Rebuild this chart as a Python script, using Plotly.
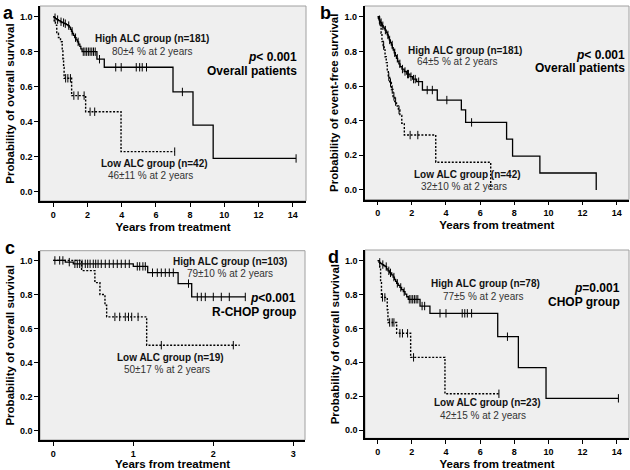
"""
Kaplan-Meier curves: high vs low ALC group, 4 panels (a-d)
"""
import plotly.graph_objects as go

W, H = 630, 470
FONT = 'Liberation Sans'

# ---- panel a : overall survival, overall patients ----
a_high_t = [0.05, 0.12, 0.2, 0.3, 0.4, 0.5, 0.62, 0.75, 0.85, 0.93, 1.0, 1.06, 1.12, 1.18,
            1.25, 1.33, 1.41, 1.48, 1.55, 1.61, 1.68, 2.55, 2.98, 7.0, 8.17, 9.35]
a_high_s = [0.994, 0.989, 0.983, 0.977, 0.971, 0.966, 0.960, 0.955, 0.949, 0.940, 0.928, 0.916,
            0.905, 0.893, 0.880, 0.868, 0.856, 0.843, 0.830, 0.816, 0.800, 0.757, 0.711, 0.57,
            0.38, 0.19]
a_high_cens = [0.1, 0.25, 0.45, 0.6, 0.7, 0.9, 1.1, 1.3, 1.45, 1.75, 1.85, 1.95, 2.05, 2.15,
               2.25, 2.35, 2.45, 2.7, 3.65, 3.97, 4.85, 5.05, 5.2, 5.45, 7.55, 14.2]
a_high_end = 14.2
a_low_t = [0.05, 0.12, 0.2, 0.3, 0.42, 0.52, 0.56, 0.6, 0.63, 1.07, 1.89, 3.96]
a_low_s = [0.976, 0.952, 0.905, 0.881, 0.857, 0.81, 0.76, 0.71, 0.648, 0.549, 0.457, 0.229]
a_low_cens = [0.72, 0.85, 1.0, 1.2, 1.45, 1.8, 2.15, 2.42, 7.1]
a_low_end = 7.1

# ---- panel b : event-free survival, overall patients ----
b_high_t = [0.04, 0.08, 0.12, 0.17, 0.22, 0.27, 0.32, 0.38, 0.43, 0.5, 0.56, 0.62, 0.68, 0.74,
            0.8, 0.86, 0.91, 0.97, 1.03, 1.1, 1.17, 1.24, 1.31, 1.42, 1.55, 1.7, 1.89, 2.05,
            2.28, 2.62, 3.49, 4.9, 5.15, 7.55, 7.9, 9.5, 12.8]
b_high_s = [0.991, 0.983, 0.974, 0.966, 0.957, 0.948, 0.940, 0.931, 0.923, 0.909, 0.895, 0.880,
            0.866, 0.851, 0.837, 0.822, 0.808, 0.792, 0.776, 0.760, 0.744, 0.728, 0.712, 0.698,
            0.684, 0.669, 0.654, 0.640, 0.625, 0.577, 0.519, 0.462, 0.39, 0.293, 0.195, 0.098,
            0.0]
b_high_cens = [0.1, 0.2, 0.3, 0.45, 0.6, 0.7, 0.85, 1.0, 1.15, 1.3, 1.45, 1.6, 1.75, 1.8, 1.95,
               2.1, 2.2, 2.4, 2.9, 3.2, 4.05, 5.5]
b_high_end = 12.8
b_low_t = [0.1, 0.15, 0.2, 0.25, 0.32, 0.38, 0.43, 0.5, 0.56, 0.62, 0.7, 0.8, 0.9, 1.0, 1.1,
           1.21, 1.3, 1.41, 1.56, 3.4, 6.62]
b_low_s = [0.976, 0.952, 0.905, 0.857, 0.833, 0.809, 0.769, 0.735, 0.69, 0.654, 0.62, 0.58,
           0.54, 0.51, 0.485, 0.462, 0.43, 0.385, 0.317, 0.16, 0.0]
b_low_cens = [0.12, 0.35, 0.65, 0.75, 0.85, 0.95, 1.05, 1.25, 1.9, 2.35]
b_low_end = 6.62

# ---- panel c : overall survival, R-CHOP group ----
c_high_t = [0.15, 0.25, 1.0, 1.18, 1.56, 1.73]
c_high_s = [0.99, 0.98, 0.965, 0.928, 0.864, 0.786]
c_high_cens = [0.02, 0.08, 0.12, 0.2, 0.27, 0.3, 0.33, 0.36, 0.4, 0.43, 0.46, 0.5, 0.53, 0.56,
               0.6, 0.65, 0.7, 0.75, 0.8, 0.85, 0.9, 0.95, 1.05, 1.08, 1.12, 1.15, 1.24, 1.3,
               1.35, 1.4, 1.45, 1.5, 1.69, 1.8, 1.85, 1.9, 2.0, 2.1, 2.2, 2.4]
c_high_end = 2.4
c_low_t = [0.354, 0.52, 0.583, 0.646, 0.667, 1.167]
c_low_s = [0.94, 0.87, 0.80, 0.737, 0.669, 0.503]
c_low_cens = [0.77, 0.83, 0.9, 0.94, 0.98, 1.06, 1.35, 2.25]
c_low_end = 2.33

# ---- panel d : overall survival, CHOP group ----
d_high_t = [0.08, 0.15, 0.25, 0.35, 0.43, 0.52, 0.6, 0.7, 0.82, 0.9, 0.98, 1.05, 1.11, 1.2,
            1.3, 1.4, 1.5, 1.6, 1.7, 1.79, 2.48, 3.06, 7.03, 8.24, 9.86]
d_high_s = [0.99, 0.984, 0.977, 0.971, 0.965, 0.952, 0.940, 0.928, 0.916, 0.903, 0.890, 0.878,
            0.866, 0.854, 0.842, 0.829, 0.817, 0.802, 0.787, 0.772, 0.732, 0.689, 0.551, 0.368,
            0.187]
d_high_cens = [0.12, 0.3, 0.5, 0.65, 0.75, 0.95, 1.15, 1.35, 1.55, 1.85, 1.95, 2.05, 2.15, 2.25,
               2.35, 2.6, 2.75, 3.65, 4.0, 4.95, 5.1, 5.25, 5.5, 7.6, 14.1]
d_high_end = 14.1
d_low_t = [0.12, 0.17, 0.22, 0.56, 0.6, 1.11, 1.93, 3.94]
d_low_s = [0.957, 0.87, 0.783, 0.71, 0.635, 0.571, 0.429, 0.214]
d_low_cens = [0.28, 0.42, 0.7, 0.85, 0.95, 1.3, 1.45, 1.75, 2.1, 7.1]
d_low_end = 7.1

y_ticks = [0.0, 0.2, 0.4, 0.6, 0.8, 1.0]
x_ticks_long = [0, 2, 4, 6, 8, 10, 12, 14]
x_ticks_short = [0, 1, 2, 3]


def px(x, y):
    """像素座標 -> paper 座標"""
    return x / W, 1 - y / H


def surv_at(times, surv, t):
    s = 1.0
    for ti, si in zip(times, surv):
        if ti <= t:
            s = si
    return s


panels = [
    dict(label='a', high=(a_high_t, a_high_s, a_high_cens, a_high_end),
         low=(a_low_t, a_low_s, a_low_cens, a_low_end),
         xdom=(40, 306), ydom=(6, 201), xr=[-0.78, 14.78], yr=[-0.053, 1.061], xt=x_ticks_long,
         ytitle='Probability of overall survival', lab_xy=(8, 13),
         texts=[('High ALC group (n=181)', 152, 38, True), ('80±4 % at 2 years', 152, 52, False),
                ('Low ALC group (n=42)', 154, 163, True), ('46±11 % at 2 years', 150, 175, False)],
         pv=('<i>p</i>< 0.001', 'Overall patients', 299, 57, 71)),
    dict(label='b', high=(b_high_t, b_high_s, b_high_cens, b_high_end),
         low=(b_low_t, b_low_s, b_low_cens, b_low_end),
         xdom=(364.5, 629), ydom=(6, 199.5), xr=[-0.773, 14.72], yr=[-0.055, 1.062], xt=x_ticks_long,
         ytitle='Probability of event-free survival', lab_xy=(325, 13),
         texts=[('High ALC group (n=181)', 465, 50, True), ('64±5 % at 2 years', 457, 62, False),
                ('Low ALC group (n=42)', 467, 174, True), ('32±10 % at 2 years', 464, 186, False)],
         pv=('<i>p</i>< 0.001', 'Overall patients', 627, 55, 68)),
    dict(label='c', high=(c_high_t, c_high_s, c_high_cens, c_high_end),
         low=(c_low_t, c_low_s, c_low_cens, c_low_end),
         xdom=(40, 305), ydom=(250.7, 440), xr=[-0.166, 3.146], yr=[-0.053, 1.057], xt=x_ticks_short,
         ytitle='Probability of overall survival', lab_xy=(10, 248),
         texts=[('High ALC group (n=103)', 230, 261, True), ('79±10 % at 2 years', 230, 273, False),
                ('Low ALC group (n=19)', 170, 357, True), ('50±17 % at 2 years', 167, 369, False)],
         pv=('<i>p</i><0.001', 'R-CHOP group', 298, 298, 312)),
    dict(label='d', high=(d_high_t, d_high_s, d_high_cens, d_high_end),
         low=(d_low_t, d_low_s, d_low_cens, d_low_end),
         xdom=(365, 629), ydom=(250, 438.3), xr=[-0.744, 14.72], yr=[-0.049, 1.063], xt=x_ticks_long,
         ytitle='Probability of overall survival', lab_xy=(333, 257),
         texts=[('High ALC group (n=78)', 485, 283, True), ('77±5 % at 2 years', 483, 296, False),
                ('Low ALC group (n=23)', 487, 402, True), ('42±15 % at 2 years', 483, 415, False)],
         pv=('<i>p</i>=0.001', 'CHOP group', 622, 288, 302)),
]

fig = go.Figure()
annotations = []
shapes = []
layout_axes = {}

for i, p in enumerate(panels, start=1):
    sfx = '' if i == 1 else str(i)
    xa, ya = 'x' + sfx, 'y' + sfx

    for key, dash, width in [('low', '2px,1.6px', 1.4), ('high', 'solid', 1.3)]:
        times, surv, cens, end = p[key]
        xs = [0] + times + [end]
        ys = [1.0] + surv + [surv[-1]]
        fig.add_trace(go.Scatter(x=xs, y=ys, mode='lines', line_shape='hv',
                                 line=dict(color='black', width=width, dash=dash),
                                 xaxis=xa, yaxis=ya, showlegend=False, hoverinfo='skip'))
        fig.add_trace(go.Scatter(x=cens, y=[surv_at(times, surv, t) for t in cens], mode='markers',
                                 marker=dict(symbol='line-ns', size=6, color='black',
                                             line=dict(color='black', width=1)),
                                 xaxis=xa, yaxis=ya, showlegend=False, hoverinfo='skip'))

    x0, x1 = p['xdom']
    yt, yb = p['ydom']
    layout_axes['xaxis' + sfx] = dict(
        domain=[x0 / W, x1 / W], range=p['xr'], anchor=ya, tickvals=p['xt'],
        showline=True, linecolor='black', linewidth=1.5, ticks='outside', ticklen=4,
        tickwidth=1, tickcolor='black', showgrid=False, zeroline=False, automargin=False,
        tickfont=dict(family=FONT, size=9, color='black', weight='bold'),
        title=dict(text='Years from treatment', standoff=4,
                   font=dict(family=FONT, size=11.5, color='black', weight='bold')))
    layout_axes['yaxis' + sfx] = dict(
        domain=[1 - yb / H, 1 - yt / H], range=p['yr'], anchor=xa, tickvals=y_ticks,
        tickformat='.1f', showline=True, linecolor='black', linewidth=1.5, ticks='outside',
        ticklen=4, tickwidth=1, tickcolor='black', showgrid=False, zeroline=False,
        automargin=False,
        tickfont=dict(family=FONT, size=9, color='black', weight='bold'),
        title=dict(text=p['ytitle'], standoff=3,
                   font=dict(family=FONT, size=11.5, color='black', weight='bold')))

    # 外框（上、右為淺灰細線）
    shapes.append(dict(type='rect', xref=xa + ' domain', yref=ya + ' domain', x0=0, x1=1,
                       y0=0, y1=1, line=dict(color='#a0a0a0', width=1), layer='below'))

    lx, ly = px(*p['lab_xy'])
    annotations.append(dict(text='<b>%s</b>' % p['label'], x=lx, y=ly, xref='paper', yref='paper',
                            showarrow=False, xanchor='center', yanchor='middle',
                            font=dict(family=FONT, size=18, color='black')))
    for txt, tx, ty, bold in p['texts']:
        ax, ay = px(tx, ty)
        annotations.append(dict(text='<b>%s</b>' % txt if bold else txt, x=ax, y=ay,
                                xref='paper', yref='paper', showarrow=False,
                                xanchor='center', yanchor='middle',
                                font=dict(family=FONT, size=10, color='#111' if bold else '#333')))
    ptxt, gtxt, rx, py1, py2 = p['pv']
    for txt, ty in [(ptxt, py1), (gtxt, py2)]:
        ax, ay = px(rx, ty)
        annotations.append(dict(text='<b>%s</b>' % txt, x=ax, y=ay, xref='paper', yref='paper',
                                showarrow=False, xanchor='right', yanchor='middle',
                                font=dict(family=FONT, size=12, color='black')))

fig.update_layout(
    template='none',
    width=W, height=H,
    margin=dict(l=0, r=0, t=0, b=0),
    paper_bgcolor='white',
    plot_bgcolor='#efefef',
    showlegend=False,
    annotations=annotations,
    shapes=shapes,
    **layout_axes,
)

# 頁面預設 body margin 會讓圖偏移，去掉
fig.write_html('out.html', config={'displayModeBar': False},
               post_script="document.body.style.margin='0';document.body.style.overflow='hidden';")
